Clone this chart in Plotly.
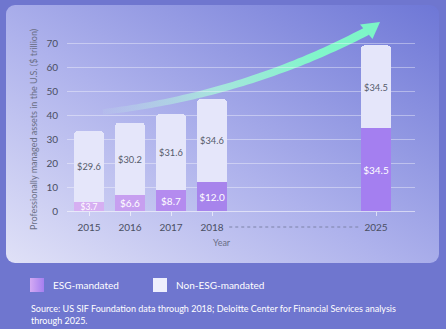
import base64
import numpy as np
import plotly.graph_objects as go

# ---- data ----
years = ["2015", "2016", "2017", "2018", "2025"]
x_pos = [0, 1, 2, 3, 7]
esg = [3.7, 6.6, 8.7, 12.0, 34.5]
non_esg = [29.6, 30.2, 31.6, 34.6, 34.5]
y_ticks = [0, 10, 20, 30, 40, 50, 60, 70]

W, H = 446, 329
L, R, T, B = 67, 31, 31, 118
PW, PH = W - L - R, H - T - B


def px2x(px):
    return (px - L) / PW


def py2y(py):
    return (H - B - py) / PH


# ---- decorative background (panel, arrow, legend swatches) ----
def bez(p0, p1, p2, t):
    t = t[:, None]
    return (1 - t) ** 2 * p0 + 2 * (1 - t) * t * p1 + t ** 2 * p2


p0, p1, p2 = np.array([103.0, 112.0]), np.array([245.0, 95.0]), np.array([367.0, 31.0])
t = np.linspace(0, 1, 60)
pts = bez(p0, p1, p2, t)
d = np.gradient(pts, axis=0)
d /= np.linalg.norm(d, axis=1)[:, None]
nrm = np.stack([-d[:, 1], d[:, 0]], axis=1)
wid = 2.8 + 1.5 * t
up = pts + nrm * wid[:, None]
dn = pts - nrm * wid[:, None]
poly = np.vstack([up, dn[::-1]])
body = "M" + " L".join(f"{a:.1f},{b:.1f}" for a, b in poly) + " Z"

svg = f'''<svg xmlns="http://www.w3.org/2000/svg" width="{W}" height="{H}" viewBox="0 0 {W} {H}">
<defs>
<linearGradient id="p" x1="0" y1="1" x2="1" y2="0">
<stop offset="0" stop-color="#e0e1f7"/>
<stop offset="0.45" stop-color="#aeb2ec"/>
<stop offset="1" stop-color="#6e77d6"/>
</linearGradient>
<linearGradient id="a" gradientUnits="userSpaceOnUse" x1="100" y1="112" x2="380" y2="22">
<stop offset="0" stop-color="#c8f7e6" stop-opacity="0.05"/>
<stop offset="0.4" stop-color="#a8f5da" stop-opacity="0.8"/>
<stop offset="0.75" stop-color="#82f6ca"/>
<stop offset="1" stop-color="#7cf5c6"/>
</linearGradient>
<linearGradient id="s" x1="0" y1="0" x2="1" y2="0">
<stop offset="0" stop-color="#d4aaf3"/>
<stop offset="1" stop-color="#a57ff0"/>
</linearGradient>
</defs>
<rect width="{W}" height="{H}" fill="#6f76cf"/>
<rect x="6" y="5" width="433" height="258" rx="9" fill="url(#p)"/>
<path d="{body}" fill="url(#a)"/>
<path d="M380,22 L360,24.5 L372.5,39 Z" fill="#7cf5c6"/>
<rect x="30" y="278" width="14" height="14" fill="url(#s)"/>
<rect x="153" y="278" width="14" height="14" fill="#eeeffd"/>
</svg>'''
src = "data:image/svg+xml;base64," + base64.b64encode(svg.encode()).decode()

fig = go.Figure()
fig.add_trace(go.Bar(
    x=x_pos, y=esg, name="ESG-mandated", width=0.73,
    marker=dict(color=["#d6aff2", "#c79ff0", "#b48bef", "#a784ec", "#a47ff0"], line=dict(width=0)),
    text=[f"${v:.1f}" for v in esg], textposition="inside", insidetextanchor="middle",
    constraintext="none", textangle=0,
    textfont=dict(color="white", size=[8.5, 10, 10, 10, 10], family="Lato"),
    hoverinfo="skip",
))
fig.add_trace(go.Bar(
    x=x_pos, y=non_esg, name="Non-ESG-mandated", width=0.73,
    marker=dict(color="#e5e6fa", line=dict(width=0)),
    text=[f"${v:.1f}" for v in non_esg], textposition="inside", insidetextanchor="middle",
    constraintext="none", textangle=0,
    textfont=dict(color="#555a6a", size=10, family="Lato"),
    hoverinfo="skip",
))

fig.update_layout(
    width=W, height=H, margin=dict(l=L, r=R, t=T, b=B),
    barmode="stack", barcornerradius=4, showlegend=False,
    paper_bgcolor="#6f76cf", plot_bgcolor="rgba(0,0,0,0)",
    font=dict(family="Lato", color="#4a4f63"),
    xaxis=dict(
        range=[-0.537, 7.95], tickvals=x_pos, ticktext=years,
        showgrid=False, zeroline=False, showline=True,
        linecolor="rgba(255,255,255,0.55)", linewidth=1,
        ticks="outside", ticklen=4, tickcolor="rgba(255,255,255,0.6)",
        tickfont=dict(size=10, color="#4a4f63"), ticklabelstandoff=3,
    ),
    yaxis=dict(
        range=[0, 75], tickvals=y_ticks,
        showgrid=True, gridcolor="rgba(255,255,255,0.38)", gridwidth=1.2,
        zeroline=False, showline=False, ticks="",
        tickfont=dict(size=10, color="#4a4f63"), ticklabelstandoff=8,
    ),
    images=[dict(
        source=src, xref="paper", yref="paper",
        x=px2x(0), y=py2y(0), sizex=W / PW, sizey=H / PH,
        xanchor="left", yanchor="top", sizing="stretch", layer="below",
    )],
    shapes=[dict(
        type="line", xref="x", yref="paper", x0=3.42, x1=6.6,
        y0=py2y(227), y1=py2y(227),
        line=dict(color="#7d82a8", width=1, dash="dot"),
    )],
    annotations=[
        dict(text="Year", xref="paper", yref="paper", x=px2x(222), y=py2y(242),
             xanchor="center", yanchor="middle",
             showarrow=False, font=dict(size=9, color="#6a6f86")),
        dict(text="Professionally managed assets in the U.S. ($ trillion)",
             xref="paper", yref="paper", x=px2x(33), y=py2y(130), textangle=-90,
             xanchor="center", yanchor="middle",
             showarrow=False, font=dict(size=9, color="#6a6f86")),
        dict(text="ESG-mandated", xref="paper", yref="paper", x=px2x(51), y=py2y(285),
             xanchor="left", yanchor="middle", showarrow=False, font=dict(size=10, color="white")),
        dict(text="Non-ESG-mandated", xref="paper", yref="paper", x=px2x(174), y=py2y(285),
             xanchor="left", yanchor="middle", showarrow=False, font=dict(size=10, color="white")),
        dict(text="Source: US SIF Foundation data through 2018; Deloitte Center for Financial Services analysis<br>through 2025.",
             xref="paper", yref="paper", x=px2x(29), y=py2y(301), xanchor="left", yanchor="top",
             align="left", showarrow=False, font=dict(size=9, color="white")),
    ],
)

fig.write_html("out.html")
